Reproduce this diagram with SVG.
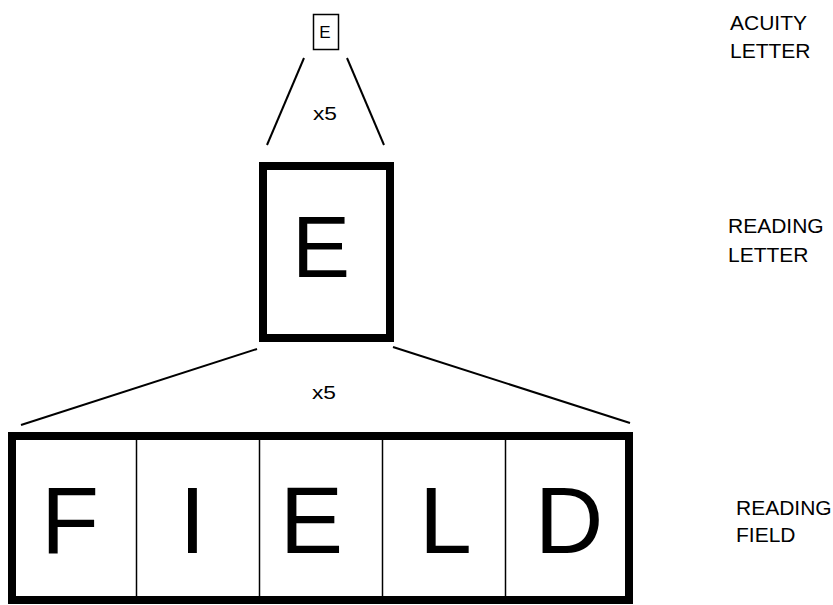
<svg xmlns="http://www.w3.org/2000/svg" width="833" height="605" viewBox="0 0 833 605">
<style>
text{font-family:"Liberation Sans",Arial,sans-serif;fill:#000}
.lbl{font-size:21px}
.x5{font-size:17.5px}
.big{font-size:95px;text-anchor:middle}
.conn line{stroke:#000;stroke-width:2;fill:none}
</style>
<rect width="833" height="605" fill="#fff"/>
<g id="acuity-letter">
<rect x="313.5" y="14.5" width="25" height="35" fill="none" stroke="#000" stroke-width="1.5"/>
<text x="325" y="38" font-size="17" text-anchor="middle">E</text>
</g>
<g id="reading-letter">
<rect x="263" y="166" width="127" height="172" fill="none" stroke="#000" stroke-width="8"/>
<text x="321" y="277" font-size="87" text-anchor="middle">E</text>
</g>
<g id="reading-field">
<rect x="12" y="436" width="617" height="164" fill="none" stroke="#000" stroke-width="8"/>
<g stroke="#000" stroke-width="1.5">
<line x1="136.5" y1="440" x2="136.5" y2="596"/>
<line x1="259.5" y1="440" x2="259.5" y2="596"/>
<line x1="382.5" y1="440" x2="382.5" y2="596"/>
<line x1="505.5" y1="440" x2="505.5" y2="596"/>
</g>
<text class="big" x="70" y="553">F</text>
<text class="big" x="192.5" y="553">I</text>
<text class="big" x="311.5" y="553">E</text>
<text class="big" x="445.5" y="553">L</text>
<text class="big" x="569" y="553">D</text>
</g>
<g id="connectors" class="conn">
<line x1="304" y1="58" x2="267" y2="145"/>
<line x1="347" y1="58" x2="384" y2="145"/>
<line x1="257" y1="349" x2="21" y2="425"/>
<line x1="393" y1="347" x2="630" y2="423"/>
</g>
<g id="scale-labels">
<text class="x5" x="313" y="120" textLength="24" lengthAdjust="spacingAndGlyphs">x5</text>
<text class="x5" x="312" y="399" textLength="24" lengthAdjust="spacingAndGlyphs">x5</text>
</g>
<g id="level-labels">
<text class="lbl" x="730" y="30">ACUITY</text>
<text class="lbl" x="730" y="58">LETTER</text>
<text class="lbl" x="728" y="233">READING</text>
<text class="lbl" x="728" y="262">LETTER</text>
<text class="lbl" x="736" y="515">READING</text>
<text class="lbl" x="736" y="542">FIELD</text>
</g>
</svg>
